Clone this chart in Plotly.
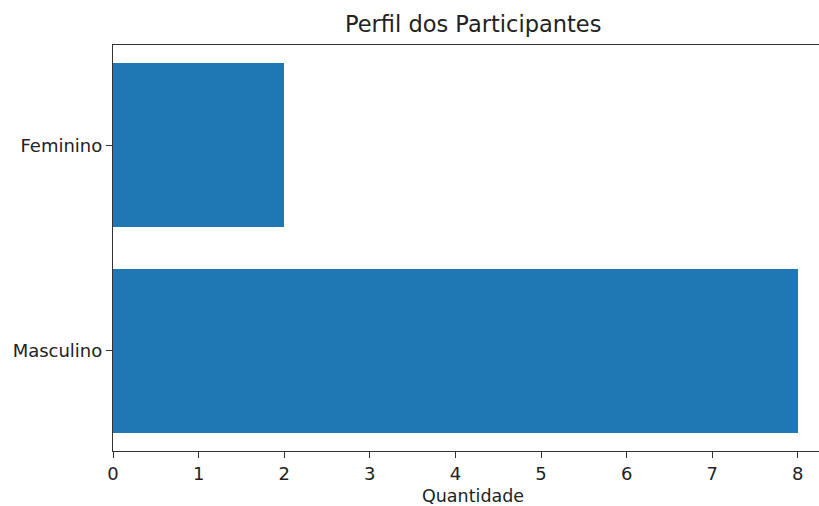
import plotly.graph_objects as go

categorias = ["Masculino", "Feminino"]
quantidades = [8, 2]
x_ticks = [0, 1, 2, 3, 4, 5, 6, 7, 8]

W, H = 819, 506
L, R, T, B = 113, 0, 45, 55
px_per_unit = 85.6
x_max = (W - L - R) / px_per_unit

fig = go.Figure(go.Bar(
    x=quantidades, y=[0, 1], orientation="h",
    width=0.8, marker=dict(color="#1f77b4", line=dict(width=0)),
))

font = "DejaVu Sans"
fig.update_layout(
    width=W, height=H,
    margin=dict(l=L, r=R, t=T, b=B),
    plot_bgcolor="white", paper_bgcolor="white",
    font=dict(family=font, size=18, color="#222"),
    showlegend=False,
    bargap=0,
)
fig.update_xaxes(
    range=[0, x_max], tickvals=x_ticks, ticktext=[str(v) for v in x_ticks],
    showgrid=False, zeroline=False, showline=True, linecolor="#333", linewidth=1.2,
    mirror=True, ticks="outside", ticklen=6, tickcolor="#333",
)
fig.update_yaxes(
    range=[-0.49, 1.49], tickvals=[0, 1], ticktext=categorias,
    showgrid=False, zeroline=False, showline=True, linecolor="#333", linewidth=1.2,
    ticks="outside", ticklen=6, tickcolor="#333",
)
cx = (472.5 - L) / (W - L - R)
fig.add_annotation(text="Perfil dos Participantes", xref="paper", yref="paper",
                   x=cx, y=1, yshift=6, xanchor="center", yanchor="bottom",
                   showarrow=False, font=dict(size=22.5, family=font, color="#222"))
fig.add_annotation(text="Quantidade", xref="paper", yref="paper",
                   x=cx, y=0, yshift=-33, xanchor="center", yanchor="top",
                   showarrow=False, font=dict(size=17.5, family=font, color="#222"))

fig.write_html(
    "out.html",
    config={"displayModeBar": False},
    post_script="document.body.style.margin='0';document.body.style.overflow='hidden';"
                "document.documentElement.style.overflow='hidden';",
)
